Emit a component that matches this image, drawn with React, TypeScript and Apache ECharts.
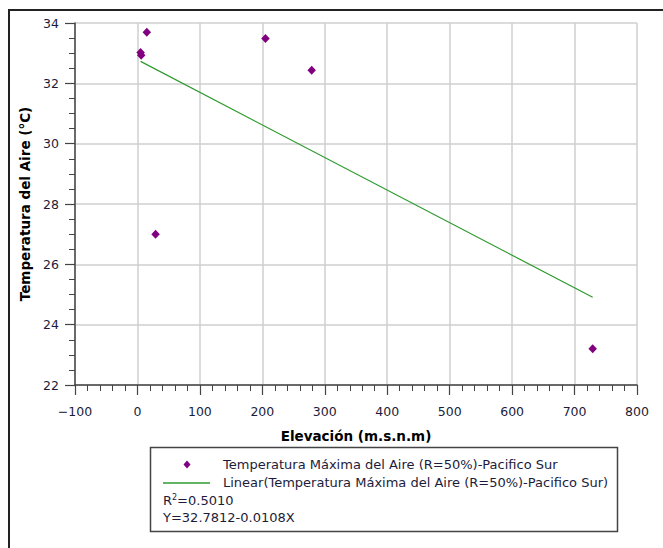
import React, { useEffect, useRef } from "react";
import * as echarts from "echarts";

const elevation = [5, 6, 15, 29, 205, 279, 729];
const temperature = [33.02, 32.93, 33.69, 27.0, 33.49, 32.43, 23.2];
const trendIntercept = 32.7812;
const trendSlope = -0.0108;
const rSquared = "0.5010";
const xTicks = { min: -100, max: 800, interval: 100 };
const yTicks = { min: 22, max: 34, interval: 2 };
const seriesName = "Temperatura Máxima del Aire (R=50%)-Pacifico Sur";
const trendName = "Linear(Temperatura Máxima del Aire (R=50%)-Pacifico Sur)";
const equationText = "Y=32.7812-0.0108X";

const FONT = "DejaVu Sans";
const LABEL_COLOR = "#1c1c3a";

export default function App() {
  const ref = useRef<HTMLDivElement>(null);
  useEffect(() => {
    if (!ref.current) return;
    const chart = echarts.init(ref.current, null, { renderer: "svg" });
    const xMin = Math.min(...elevation);
    const xMax = Math.max(...elevation);
    const trend = [
      [xMin, trendIntercept + trendSlope * xMin],
      [xMax, trendIntercept + trendSlope * xMax],
    ];
    const scatter = elevation.map((x, i) => [x, temperature[i]]);
    chart.setOption({
      animation: false,
      backgroundColor: "#ffffff",
      grid: { left: 75, right: 26, top: 23, bottom: 163, containLabel: false },
      xAxis: {
        type: "value",
        min: xTicks.min,
        max: xTicks.max,
        interval: xTicks.interval,
        name: "Elevación (m.s.n.m)",
        nameLocation: "middle",
        nameGap: 44,
        nameTextStyle: { fontFamily: FONT, fontSize: 13.5, fontWeight: "bold", color: "#000" },
        axisLine: { show: true, onZero: false, lineStyle: { color: "#444", width: 1.5 } },
        axisTick: { show: true, inside: false, length: 10, lineStyle: { color: "#444", width: 1.2 } },
        minorTick: { show: true, splitNumber: 5, length: 6, lineStyle: { color: "#444", width: 1 } },
        axisLabel: {
          fontFamily: FONT,
          fontSize: 12.5,
          color: LABEL_COLOR,
          margin: 20,
          formatter: (v: number) => String(v).replace("-", "\u2212"),
        },
        splitLine: { show: true, lineStyle: { color: "#cfcfcf", width: 1.5 } },
      },
      yAxis: {
        type: "value",
        min: yTicks.min,
        max: yTicks.max,
        interval: yTicks.interval,
        name: "Temperatura del Aire (°C)",
        nameLocation: "middle",
        nameGap: 31,
        nameRotate: 90,
        nameTextStyle: { fontFamily: FONT, fontSize: 13.5, fontWeight: "bold", color: "#000" },
        axisLine: { show: true, onZero: false, lineStyle: { color: "#444", width: 1.5 } },
        axisTick: { show: true, inside: false, length: 10, lineStyle: { color: "#444", width: 1.2 } },
        minorTick: { show: true, splitNumber: 4, length: 6, lineStyle: { color: "#444", width: 1 } },
        axisLabel: { fontFamily: FONT, fontSize: 12.5, color: LABEL_COLOR, margin: 16 },
        splitLine: { show: true, lineStyle: { color: "#cfcfcf", width: 1.5 } },
      },
      series: [
        {
          name: trendName,
          type: "line",
          data: trend,
          showSymbol: false,
          symbol: "none",
          lineStyle: { color: "#2e9a2e", width: 1.2 },
          z: 2,
        },
        {
          name: seriesName,
          type: "scatter",
          data: scatter,
          symbol: "diamond",
          symbolSize: [8.5, 9],
          itemStyle: { color: "#800080", opacity: 1 },
          z: 3,
        },
      ],
      graphic: [
        {
          type: "rect",
          shape: { x: 9, y: 10, width: 720, height: 600 },
          style: { fill: "none", stroke: "#222", lineWidth: 2 },
          silent: true,
        },
        {
          type: "rect",
          shape: { x: 150.5, y: 447.5, width: 467, height: 84 },
          style: { fill: "#fff", stroke: "#444", lineWidth: 1.5 },
          silent: true,
        },
        {
          type: "polygon",
          shape: { points: [[187, 460.5], [190.5, 464.5], [187, 468.5], [183.5, 464.5]] },
          style: { fill: "#800080" },
        },
        {
          type: "line",
          shape: { x1: 163, y1: 483, x2: 210, y2: 483 },
          style: { stroke: "#2e9a2e", lineWidth: 1.5 },
        },
        {
          type: "text",
          x: 223,
          y: 464.5,
          style: { text: seriesName, fontFamily: FONT, fontSize: 13, fill: LABEL_COLOR, verticalAlign: "middle" },
        },
        {
          type: "text",
          x: 223,
          y: 482.5,
          style: { text: trendName, fontFamily: FONT, fontSize: 13, fill: LABEL_COLOR, verticalAlign: "middle" },
        },
        {
          type: "text",
          x: 163,
          y: 500,
          style: {
            text: "R{sup|2}=" + rSquared,
            fontFamily: FONT,
            fontSize: 13,
            fill: LABEL_COLOR,
            verticalAlign: "middle",
            rich: { sup: { fontFamily: FONT, fontSize: 8, fill: LABEL_COLOR, verticalAlign: "top", padding: [0, 0, 6, 0] } },
          },
        },
        {
          type: "text",
          x: 163,
          y: 517,
          style: { text: equationText, fontFamily: FONT, fontSize: 13, fill: LABEL_COLOR, verticalAlign: "middle" },
        },
      ],
    });
    return () => chart.dispose();
  }, []);
  return (
    <div
      ref={ref}
      style={{ position: "absolute", left: 0, top: 0, width: 663, height: 548 }}
    />
  );
}
